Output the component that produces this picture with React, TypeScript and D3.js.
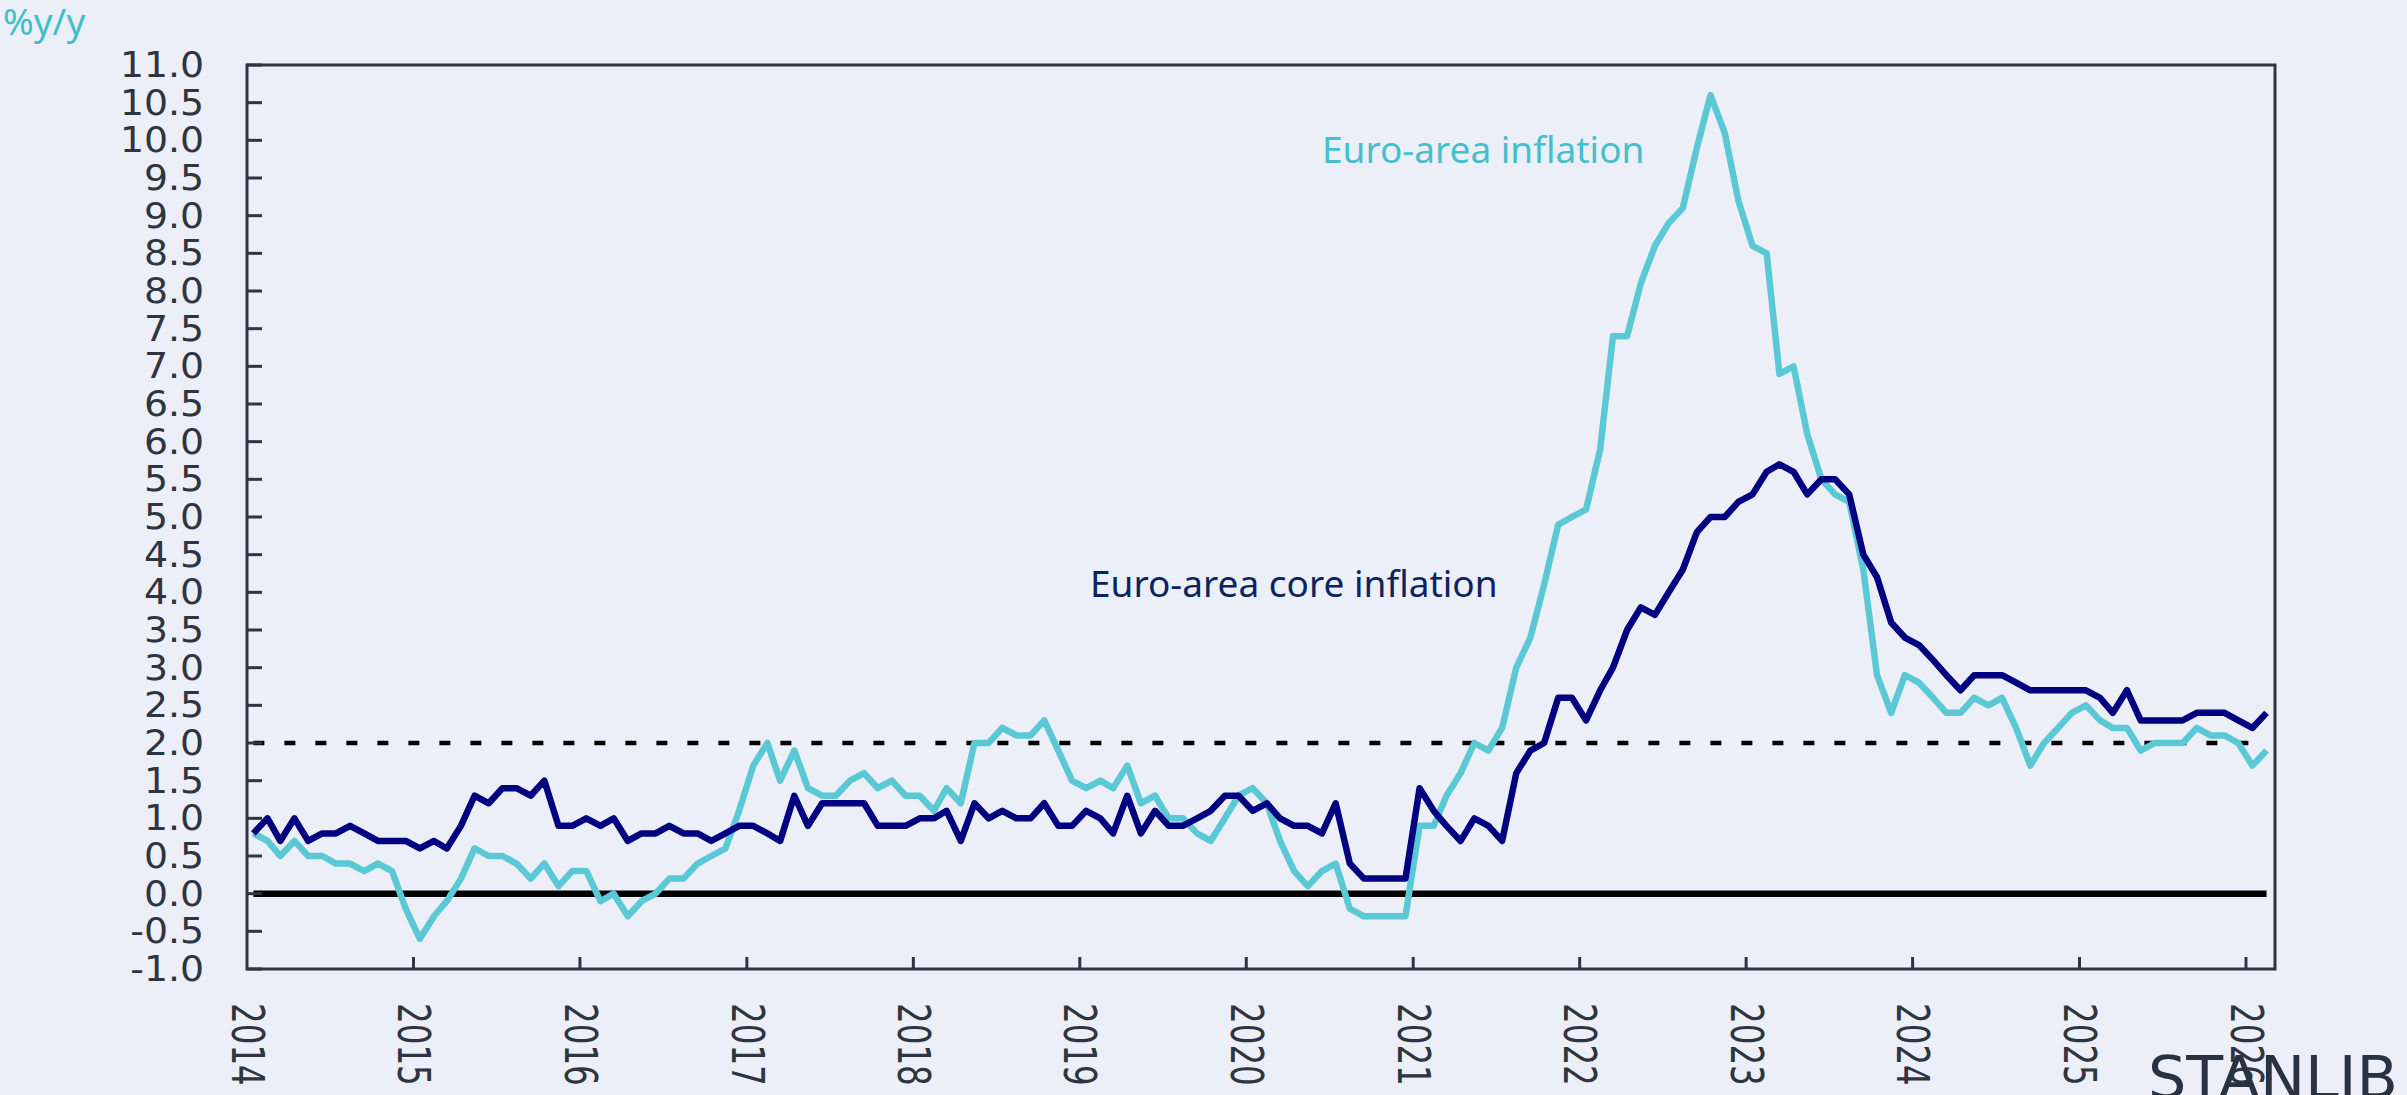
import React from 'react';
import * as d3 from 'd3';

// monthly, Jan 2014 .. Feb 2026
const headline = [
    0.8, 0.7, 0.5, 0.7, 0.5, 0.5, 0.4, 0.4, 0.3, 0.4, 0.3, -0.2,
    -0.6, -0.3, -0.1, 0.2, 0.6, 0.5, 0.5, 0.4, 0.2, 0.4, 0.1, 0.3,
    0.3, -0.1, 0.0, -0.3, -0.1, 0.0, 0.2, 0.2, 0.4, 0.5, 0.6, 1.1,
    1.7, 2.0, 1.5, 1.9, 1.4, 1.3, 1.3, 1.5, 1.6, 1.4, 1.5, 1.3,
    1.3, 1.1, 1.4, 1.2, 2.0, 2.0, 2.2, 2.1, 2.1, 2.3, 1.9, 1.5,
    1.4, 1.5, 1.4, 1.7, 1.2, 1.3, 1.0, 1.0, 0.8, 0.7, 1.0, 1.3,
    1.4, 1.2, 0.7, 0.3, 0.1, 0.3, 0.4, -0.2, -0.3, -0.3, -0.3, -0.3,
    0.9, 0.9, 1.3, 1.6, 2.0, 1.9, 2.2, 3.0, 3.4, 4.1, 4.9, 5.0,
    5.1, 5.9, 7.4, 7.4, 8.1, 8.6, 8.9, 9.1, 9.9, 10.6, 10.1, 9.2,
    8.6, 8.5, 6.9, 7.0, 6.1, 5.5, 5.3, 5.2, 4.3, 2.9, 2.4, 2.9,
    2.8, 2.6, 2.4, 2.4, 2.6, 2.5, 2.6, 2.2, 1.7, 2.0, 2.2, 2.4,
    2.5, 2.3, 2.2, 2.2, 1.9, 2.0, 2.0, 2.0, 2.2, 2.1, 2.1, 2.0,
    1.7, 1.9,
];

const core = [
    0.8, 1.0, 0.7, 1.0, 0.7, 0.8, 0.8, 0.9, 0.8, 0.7, 0.7, 0.7,
    0.6, 0.7, 0.6, 0.9, 1.3, 1.2, 1.4, 1.4, 1.3, 1.5, 0.9, 0.9,
    1.0, 0.9, 1.0, 0.7, 0.8, 0.8, 0.9, 0.8, 0.8, 0.7, 0.8, 0.9,
    0.9, 0.8, 0.7, 1.3, 0.9, 1.2, 1.2, 1.2, 1.2, 0.9, 0.9, 0.9,
    1.0, 1.0, 1.1, 0.7, 1.2, 1.0, 1.1, 1.0, 1.0, 1.2, 0.9, 0.9,
    1.1, 1.0, 0.8, 1.3, 0.8, 1.1, 0.9, 0.9, 1.0, 1.1, 1.3, 1.3,
    1.1, 1.2, 1.0, 0.9, 0.9, 0.8, 1.2, 0.4, 0.2, 0.2, 0.2, 0.2,
    1.4, 1.1, 0.9, 0.7, 1.0, 0.9, 0.7, 1.6, 1.9, 2.0, 2.6, 2.6,
    2.3, 2.7, 3.0, 3.5, 3.8, 3.7, 4.0, 4.3, 4.8, 5.0, 5.0, 5.2,
    5.3, 5.6, 5.7, 5.6, 5.3, 5.5, 5.5, 5.3, 4.5, 4.2, 3.6, 3.4,
    3.3, 3.1, 2.9, 2.7, 2.9, 2.9, 2.9, 2.8, 2.7, 2.7, 2.7, 2.7,
    2.7, 2.6, 2.4, 2.7, 2.3, 2.3, 2.3, 2.3, 2.4, 2.4, 2.4, 2.3,
    2.2, 2.4,
];

const yTicks = d3.range(-1, 11.01, 0.5);
const yearTicks = d3.range(2014, 2027);
const target = 2.0;

const W = 2407;
const H = 1095;
const bg = '#ECEFF8';
const axisCol = '#2E3440';
const teal = '#5BC8D6';
const navy = '#000080';

const dates = headline.map((_, i) => new Date(2014, i, 15));

const App: React.FC = () => {
    const left = 247, right = 2275, top = 65, bottom = 969;

    const x = d3.scaleTime()
        .domain([new Date(2014, 0, 1), new Date(2026, 0, 1)])
        .range([left, 2246]);
    const y = d3.scaleLinear().domain([-1, 11]).range([bottom, top]);

    const line = d3.line<number>()
        .x((_, i) => x(dates[i]))
        .y(d => y(d));

    const x0 = x(dates[0]);
    const x1 = x(dates[dates.length - 1]);

    return (
        <div style={{position: 'absolute', left: 0, top: 0}}>
            <svg width={W} height={H} style={{display: 'block'}}>
                <rect width={W} height={H} fill={bg}/>

                {/* reference lines */}
                <line x1={x0} x2={x1} y1={y(0)} y2={y(0)} stroke="#000" strokeWidth={6.5}/>
                <line x1={x0} x2={x1} y1={y(target)} y2={y(target)} stroke="#000" strokeWidth={4.5}
                      strokeDasharray="11 20"/>

                {/* series */}
                <path d={line(headline)!} fill="none" stroke={teal} strokeWidth={6.5}
                      strokeLinejoin="round"/>
                <path d={line(core)!} fill="none" stroke={navy} strokeWidth={6.5}
                      strokeLinejoin="round"/>

                {/* frame */}
                <rect x={left} y={top} width={right - left} height={bottom - top}
                      fill="none" stroke={axisCol} strokeWidth={3}/>

                {/* y axis */}
                {yTicks.map(t => (
                    <g key={'y' + t}>
                        <line x1={left} x2={left + 15} y1={y(t)} y2={y(t)} stroke={axisCol} strokeWidth={3}/>
                        <text transform={`translate(204,${y(t)}) scale(1.08,1)`} textAnchor="end"
                              dominantBaseline="central" fontFamily="DejaVu Sans" fontSize={35}
                              fill={axisCol}>{t.toFixed(1)}</text>
                    </g>
                ))}

                {/* x axis */}
                {yearTicks.map(yr => {
                    const xv = x(new Date(yr, 0, 1));
                    return (
                        <g key={'x' + yr}>
                            {yr > 2014 && <line x1={xv} x2={xv} y1={bottom} y2={bottom - 12}
                                                stroke={axisCol} strokeWidth={3}/>}
                            <text transform={`translate(${xv},1003) rotate(90) scale(0.74,1)`}
                                  dominantBaseline="central" fontFamily="DejaVu Sans" fontSize={44}
                                  fill={axisCol}>{yr}</text>
                        </g>
                    );
                })}

                <text x={3} y={35} fontFamily="Noto Sans" fontSize={37} fill="#3FBFCB">%y/y</text>

                <text x={1322} y={163} fontFamily="Noto Sans" fontSize={37} fill="#45BFCB">Euro-area inflation</text>
                <text x={1090} y={597} fontFamily="Noto Sans" fontSize={37} fill="#0B2360">Euro-area core inflation</text>

                <text x={2148} y={1098} fontFamily="DejaVu Sans" fontSize={58} fill="#2A3240"
                      textLength={250} lengthAdjust="spacingAndGlyphs">STANLIB</text>
            </svg>
        </div>
    );
};

export default App;
